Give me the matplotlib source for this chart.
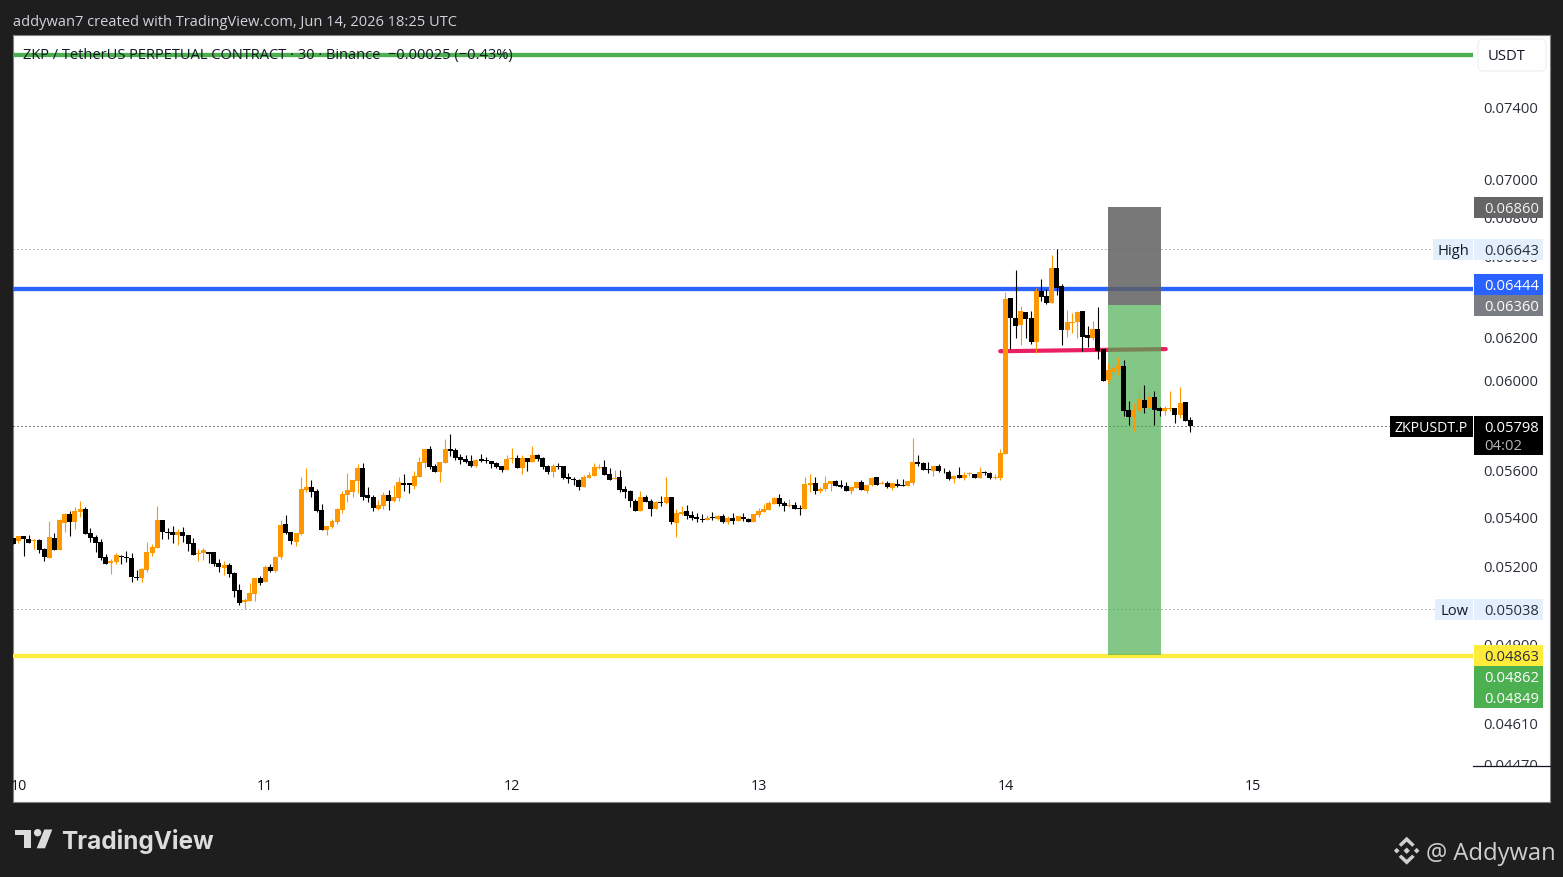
import numpy as np
import matplotlib
matplotlib.use("Agg")
import matplotlib.pyplot as plt
from matplotlib.patches import Rectangle, FancyBboxPatch, Polygon, Circle
from matplotlib.ticker import NullLocator, NullFormatter
from matplotlib.transforms import ScaledTranslation

opens = [.05319,.05309,.05328,.05316,.05309,.05312,.05276,.05239,.05320,.05272,
 .05381,.05419,.05386,.05428,.05440,.05340,.05324,.05304,.05243,.05219,
 .05223,.05247,.05243,.05239,.05163,.05159,.05191,.05259,.05280,.05394,
 .05345,.05345,.05332,.05345,.05332,.05300,.05255,.05259,.05264,.05264,
 .05219,.05199,.05211,.05179,.05112,.05065,.05069,.05096,.05159,.05143,
 .05203,.05187,.05243,.05377,.05345,.05304,.05336,.05520,.05533,.05516,
 .05436,.05353,.05365,.05386,.05436,.05499,.05512,.05558,.05614,.05499,
 .05491,.05440,.05453,.05499,.05474,.05486,.05549,.05549,.05537,.05575,
 .05636,.05697,.05622,.05596,.05636,.05697,.05692,.05662,.05653,.05644,
 .05622,.05653,.05649,.05644,.05636,.05622,.05605,.05653,.05658,.05614,
 .05658,.05640,.05671,.05658,.05622,.05596,.05622,.05622,.05575,.05566,
 .05562,.05533,.05571,.05579,.05614,.05618,.05588,.05566,.05575,.05524,
 .05516,.05474,.05432,.05491,.05474,.05440,.05470,.05466,.05491,.05382,
 .05419,.05432,.05415,.05407,.05398,.05394,.05407,.05398,.05411,.05386,
 .05402,.05390,.05407,.05398,.05386,.05415,.05428,.05436,.05461,.05486,
 .05466,.05453,.05457,.05444,.05440,.05541,.05549,.05516,.05524,.05545,
 .05558,.05541,.05537,.05516,.05528,.05554,.05516,.05541,.05575,.05545,
 .05549,.05528,.05545,.05541,.05537,.05549,.05640,.05636,.05609,.05601,
 .05622,.05606,.05596,.05566,.05584,.05571,.05586,.05588,.05571,.05596,
 .05592,.05571,.05571,.05675,.06396,.06299,.06265,.06328,.06299,.06183,
 .06431,.06406,.06371,.06544,.06455,.06241,.06275,.06279,.06332,.06217,
 .06202,.06246,.06150,.06006,.06043,.06056,.06070,.05870,.05838,.05865,
 .05914,.05878,.05928,.05878,.05865,.05874,.05878,.05847,.05905,.05825]
highs = [.05321,.05328,.05328,.05332,.05316,.05316,.05280,.05390,.05340,.05398,
 .05423,.05432,.05449,.05474,.05449,.05361,.05332,.05316,.05255,.05235,
 .05259,.05251,.05268,.05259,.05191,.05199,.05304,.05296,.05453,.05394,
 .05361,.05369,.05357,.05365,.05332,.05320,.05276,.05280,.05264,.05264,
 .05235,.05227,.05219,.05183,.05136,.05081,.05140,.05159,.05167,.05211,
 .05215,.05247,.05394,.05415,.05345,.05340,.05575,.05614,.05562,.05524,
 .05461,.05369,.05398,.05444,.05516,.05592,.05562,.05631,.05636,.05533,
 .05499,.05478,.05512,.05520,.05541,.05575,.05588,.05549,.05601,.05662,
 .05697,.05710,.05631,.05640,.05741,.05763,.05701,.05675,.05671,.05671,
 .05653,.05675,.05662,.05644,.05640,.05622,.05671,.05701,.05671,.05671,
 .05658,.05710,.05675,.05662,.05627,.05631,.05636,.05622,.05592,.05575,
 .05566,.05584,.05596,.05636,.05631,.05649,.05614,.05605,.05605,.05537,
 .05520,.05482,.05516,.05499,.05482,.05474,.05495,.05575,.05491,.05440,
 .05453,.05457,.05432,.05423,.05419,.05415,.05428,.05415,.05419,.05411,
 .05423,.05411,.05423,.05402,.05419,.05444,.05461,.05474,.05491,.05503,
 .05474,.05482,.05470,.05457,.05575,.05588,.05575,.05533,.05579,.05558,
 .05562,.05562,.05554,.05533,.05554,.05562,.05541,.05575,.05575,.05558,
 .05558,.05549,.05566,.05566,.05558,.05745,.05671,.05640,.05640,.05622,
 .05631,.05614,.05605,.05584,.05618,.05596,.05596,.05588,.05618,.05601,
 .05596,.05588,.05697,.06426,.06396,.06535,.06357,.06328,.06332,.06445,
 .06490,.06440,.06609,.06643,.06465,.06337,.06323,.06332,.06332,.06260,
 .06284,.06352,.06150,.06084,.06084,.06112,.06098,.05910,.05901,.05964,
 .05983,.05955,.05955,.05883,.05887,.05955,.05878,.05973,.05905,.05838]
lows = [.05296,.05301,.05247,.05300,.05276,.05261,.05227,.05239,.05272,.05272,
 .05345,.05328,.05357,.05407,.05336,.05304,.05264,.05231,.05215,.05175,
 .05215,.05215,.05223,.05143,.05151,.05143,.05183,.05247,.05280,.05316,
 .05316,.05300,.05292,.05304,.05268,.05251,.05227,.05231,.05219,.05207,
 .05183,.05171,.05163,.05084,.05053,.05038,.05069,.05069,.05132,.05143,
 .05183,.05183,.05235,.05336,.05296,.05288,.05332,.05512,.05491,.05428,
 .05353,.05332,.05361,.05377,.05423,.05470,.05491,.05507,.05478,.05470,
 .05432,.05436,.05440,.05436,.05470,.05474,.05516,.05507,.05524,.05575,
 .05614,.05609,.05596,.05554,.05636,.05666,.05649,.05631,.05636,.05618,
 .05618,.05640,.05636,.05614,.05614,.05596,.05605,.05636,.05614,.05588,
 .05601,.05640,.05644,.05609,.05588,.05575,.05609,.05566,.05549,.05541,
 .05520,.05533,.05571,.05579,.05609,.05584,.05562,.05566,.05512,.05486,
 .05449,.05432,.05432,.05470,.05411,.05440,.05453,.05461,.05377,.05324,
 .05415,.05398,.05394,.05386,.05386,.05394,.05394,.05394,.05381,.05377,
 .05377,.05390,.05390,.05386,.05386,.05407,.05428,.05436,.05461,.05453,
 .05432,.05449,.05440,.05415,.05440,.05512,.05503,.05507,.05516,.05516,
 .05537,.05528,.05516,.05503,.05528,.05520,.05507,.05537,.05541,.05545,
 .05528,.05520,.05533,.05537,.05537,.05541,.05622,.05605,.05592,.05579,
 .05596,.05592,.05562,.05549,.05571,.05562,.05579,.05571,.05571,.05584,
 .05566,.05566,.05562,.05675,.06150,.06202,.06169,.06202,.06174,.06131,
 .06381,.06366,.06371,.06411,.06169,.06207,.06226,.06202,.06141,.06160,
 .06193,.06103,.06001,.05992,.06015,.06029,.05843,.05803,.05776,.05865,
 .05856,.05878,.05803,.05843,.05847,.05865,.05812,.05834,.05821,.05772]
closes = [.05296,.05328,.05317,.05300,.05313,.05272,.05243,.05324,.05272,.05394,
 .05419,.05386,.05432,.05440,.05336,.05320,.05300,.05239,.05215,.05227,
 .05251,.05243,.05239,.05163,.05159,.05195,.05264,.05284,.05394,.05345,
 .05340,.05332,.05345,.05328,.05296,.05251,.05259,.05272,.05255,.05215,
 .05203,.05211,.05175,.05108,.05061,.05073,.05100,.05159,.05140,.05203,
 .05187,.05243,.05373,.05340,.05308,.05340,.05524,.05533,.05512,.05432,
 .05353,.05369,.05390,.05440,.05503,.05520,.05562,.05614,.05491,.05486,
 .05444,.05457,.05499,.05474,.05491,.05554,.05541,.05541,.05579,.05640,
 .05697,.05618,.05596,.05640,.05697,.05688,.05658,.05649,.05640,.05622,
 .05649,.05644,.05644,.05631,.05618,.05605,.05653,.05658,.05614,.05658,
 .05640,.05671,.05653,.05618,.05596,.05622,.05618,.05571,.05566,.05562,
 .05533,.05575,.05584,.05618,.05618,.05584,.05562,.05571,.05520,.05512,
 .05474,.05432,.05491,.05470,.05440,.05470,.05466,.05491,.05386,.05423,
 .05428,.05411,.05402,.05398,.05395,.05402,.05404,.05411,.05386,.05402,
 .05390,.05411,.05400,.05386,.05419,.05432,.05440,.05466,.05486,.05461,
 .05453,.05457,.05440,.05441,.05545,.05549,.05516,.05524,.05549,.05558,
 .05537,.05533,.05516,.05533,.05554,.05520,.05541,.05571,.05541,.05549,
 .05533,.05549,.05537,.05538,.05558,.05640,.05631,.05605,.05605,.05622,
 .05601,.05604,.05566,.05579,.05571,.05584,.05591,.05571,.05596,.05592,
 .05571,.05575,.05679,.06391,.06299,.06260,.06332,.06294,.06183,.06431,
 .06401,.06371,.06544,.06445,.06241,.06279,.06279,.06328,.06207,.06202,
 .06246,.06141,.06001,.06052,.06061,.06070,.05865,.05838,.05870,.05919,
 .05878,.05928,.05870,.05865,.05878,.05878,.05847,.05901,.05821,.05798]

price_ticks = [0.074, 0.07, 0.068, 0.066, 0.062, 0.06, 0.056, 0.054, 0.052, 0.049, 0.0461, 0.0447]
price_labels = ["0.07400", "0.07000", "0.06800", "0.06600", "0.06200", "0.06000",
                "0.05600", "0.05400", "0.05200", "0.04900", "0.04610", "0.04470"]
day_ticks = [1, 49, 97, 145, 193, 241.2]
day_labels = ["10", "11", "12", "13", "14", "15"]

green_level = 0.07708
blue_level = 0.06441
yellow_level = 0.04860
high_level = 0.06643
low_level = 0.05038
last_level = 0.05798
stop_level = 0.0686
entry_level = 0.0636
target_level = 0.04862
pink_x = [192.0, 224.2]
pink_y = [0.06140, 0.06150]
zone_x = [213.0, 223.3]

W, H = 1563, 877
BG = "#1e1e1e"
FONT = "Open Sans"
SCALE_SIZE = 10.6
plt.rcParams["font.family"] = [FONT, "DejaVu Sans"]
fig = plt.figure(figsize=(W / 100, H / 100), dpi=100, facecolor=BG)

def frac(x0, y0, x1, y1):
    return [x0 / W, 1 - y1 / H, (x1 - x0) / W, (y1 - y0) / H]

panel = fig.add_axes(frac(13, 35, 1550, 802), zorder=-1)
panel.set_xticks([]); panel.set_yticks([])
panel.set_facecolor("white")
for s in panel.spines.values():
    s.set_color("#808080"); s.set_linewidth(0.8)

ax = fig.add_axes(frac(13, 35, 1473, 767), zorder=1)
ax.set_facecolor("none")
for s in ax.spines.values():
    s.set_visible(False)
ax.set_yscale("log")
y_top = 0.074 * np.exp(73 / 1303)
y_bot = 0.074 * np.exp(-659 / 1303)
ax.set_ylim(y_bot, y_top)
ax.set_xlim(-0.06, 283.98)
ax.yaxis.set_minor_locator(NullLocator())
ax.yaxis.set_minor_formatter(NullFormatter())
ax.yaxis.tick_right()
ax.set_yticks(price_ticks)
ax.set_yticklabels(price_labels, va="center")
ax.yaxis.set_minor_locator(NullLocator())
ax.tick_params(axis="y", length=0, pad=7.4, labelsize=SCALE_SIZE, labelcolor="#2a2e39")
down_1px = ScaledTranslation(0, -1.2 / 100, fig.dpi_scale_trans)
for lab in ax.get_yticklabels():
    lab.set_transform(lab.get_transform() + down_1px)
ax.set_xticks(day_ticks)
ax.set_xticklabels(day_labels)
ax.tick_params(axis="x", length=0, pad=8.5, labelsize=10.3, labelcolor="#131722")

o, h, l, c = map(np.array, (opens, highs, lows, closes))
idx = np.arange(len(o))
up = c >= o
UP, DOWN = "#ff9800", "#000000"

dot = dict(linestyle=(0, (1, 3)), linewidth=0.72, dash_capstyle="butt")
ax.axhline(high_level, color="#787b86", zorder=1, **dot)
ax.axhline(low_level, color="#787b86", zorder=1, **dot)
ax.axhline(last_level, color="#000000", zorder=1, **dot)

for lvl, col in ((green_level, "#4caf50"), (blue_level, "#2962ff"), (yellow_level, "#ffeb3b")):
    ax.axhline(lvl, color=col, linewidth=3.1, zorder=2, solid_capstyle="butt")
ax.plot(pink_x, pink_y, color="#e91e63", linewidth=3.0, zorder=2, solid_capstyle="round")

ax.fill_between(zone_x, entry_level, stop_level, color="#606060", alpha=0.85, linewidth=0, zorder=3)
ax.fill_between(zone_x, target_level, entry_level, color="#4caf50", alpha=0.69, linewidth=0, zorder=3)

for mask, col in ((up, UP), (~up, DOWN)):
    ax.vlines(idx[mask], l[mask], h[mask], color=col, linewidth=0.8, zorder=4)
    bot = np.minimum(o[mask], c[mask])
    top = np.maximum(o[mask], c[mask])
    ax.bar(idx[mask], top - bot, bottom=bot, width=0.97, color=col, linewidth=0, zorder=4)

ov = fig.add_axes([0, 0, 1, 1], zorder=5)
ov.set_xlim(0, W); ov.set_ylim(H, 0); ov.axis("off"); ov.patch.set_alpha(0)

def tag(x0, x1, y0, y1, color):
    ov.add_patch(Rectangle((x0, y0), x1 - x0, y1 - y0, facecolor=color, edgecolor="none"))

def label(x, y, s, color="#131722", size=SCALE_SIZE, ha="left", dy=-0.2, **kw):
    ov.text(x, y + dy, s, color=color, fontsize=size, ha=ha, va="center_baseline", **kw)

# covers the lower half of the last scale label, as the time axis does
tag(1473, 1549.5, 767, 801, "white")
ov.plot([1473, 1549.5], [766.2, 766.2], color="#131722", lw=0.9)

VX0, VX1 = 1474, 1543
LIGHT = "#e3effd"
tag(VX0, VX1, 197, 217.5, "#656565"); label(1484, 207.5, "0.06860", "#f2f2f2")
tag(1433, 1473, 239, 260, LIGHT); label(1453, 249.5, "High", ha="center")
tag(VX0, VX1, 239, 260, LIGHT); label(1484, 249.5, "0.06643", "#2a2e39")
tag(VX0, VX1, 274, 295, "#2962ff"); label(1484, 284.5, "0.06444", "white")
tag(VX0, VX1, 295, 316, "#7b7d85"); label(1484, 305.5, "0.06360", "white")
tag(1390, 1473, 416, 437, "#000000"); label(1431.5, 426.5, "ZKPUSDT.P", "white", ha="center", size=10.2)
tag(VX0, VX1, 416, 455, "#000000"); label(1484, 426.5, "0.05798", "white")
label(1484, 445, "04:02", "#b8b8b8")
tag(1435, 1473, 599, 620, LIGHT); label(1454, 609.5, "Low", ha="center")
tag(VX0, VX1, 599, 620, LIGHT); label(1484, 609.5, "0.05038", "#2a2e39")
tag(VX0, VX1, 645, 666, "#ffeb3b"); label(1484, 655.5, "0.04863", "#2a2e39")
tag(VX0, VX1, 666, 708, "#4caf50"); label(1484, 676.5, "0.04862", "white"); label(1484, 697.5, "0.04849", "white")

ov.add_patch(FancyBboxPatch((1480, 41), 64, 28, boxstyle="round,pad=2,rounding_size=5",
                            facecolor="white", edgecolor="#eeeeee", lw=0.8))
label(1507, 55, "USDT", ha="center", dy=0)

label(13, 20, "addywan7 created with TradingView.com, Jun 14, 2026 18:25 UTC", "#d1d4dc", size=10.55, dy=0)
label(23, 54, "ZKP / TetherUS PERPETUAL CONTRACT · 30 · Binance  \u22120.00025 (\u22120.43%)", "#131722", size=10.52, dy=0)

LOGO = "#dcdcdc"
ov.add_patch(Polygon([(15.3, 829.5), (31, 829.5), (31, 848.3), (23.5, 848.3), (23.5, 834.6), (15.3, 834.6)],
                     facecolor=LOGO, edgecolor="none"))
ov.add_patch(Circle((37.6, 832.7), 3.7, facecolor=LOGO, edgecolor="none"))
ov.add_patch(Polygon([(44.3, 829.5), (52.3, 829.5), (45, 848.3), (36.7, 848.3)], facecolor=LOGO, edgecolor="none"))
ov.text(61.5, 839, "TradingView", color=LOGO, fontsize=17.5, fontweight="bold", family="Inter",
        ha="left", va="center_baseline")

cx, cy = 1406.7, 850.7
WM = "#cfcfcf"
def diamond(x, y, r):
    ov.add_patch(Polygon([(x - r, y), (x, y - r), (x + r, y), (x, y + r)], facecolor=WM, edgecolor="none"))
diamond(cx, cy, 3.2); diamond(cx - 10, cy, 2.8); diamond(cx + 10, cy, 2.8)
for s in (1, -1):
    ov.add_patch(Polygon([(cx - 8, cy + s * 6.2), (cx, cy + s * 14), (cx + 8, cy + s * 6.2), (cx + 5.5, cy + s * 3.9),
                          (cx, cy + s * 9), (cx - 5.5, cy + s * 3.9)], facecolor=WM, edgecolor="none"))
ov.text(1426, 851, "@ Addywan", color=WM, fontsize=17.1, ha="left", va="center_baseline", family="Open Sans")

fig.savefig("out.png", dpi=100, facecolor=BG)
